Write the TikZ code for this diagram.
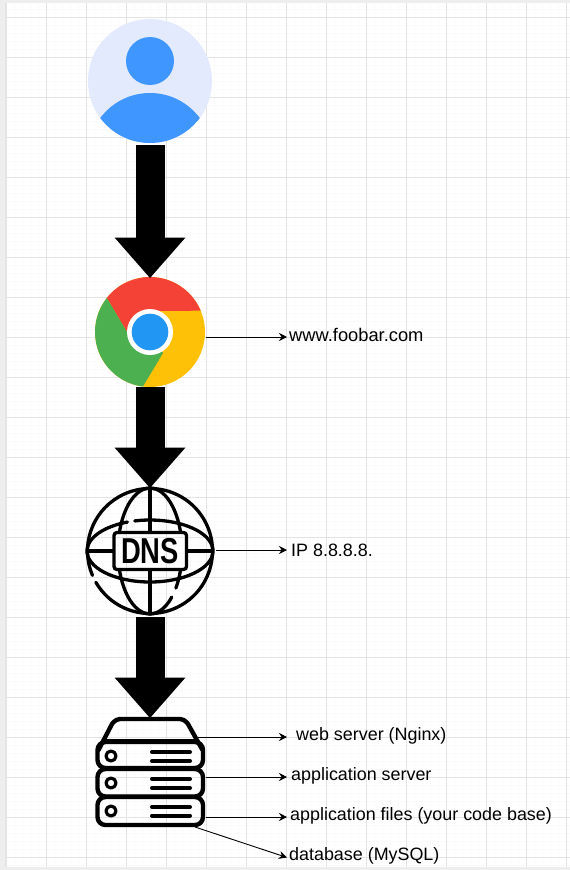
\documentclass[tikz,border=0pt]{standalone}
\usepackage{fontspec}
\setmainfont{Liberation Sans}
\usetikzlibrary{arrows.meta}
\definecolor{gridmaj}{HTML}{E4E4E4}
\definecolor{gridmin}{HTML}{FAFAFA}
\definecolor{band}{HTML}{EEEEEE}
\definecolor{userbg}{HTML}{E3EAFD}
\definecolor{userfg}{HTML}{3F96FE}
\definecolor{chred}{HTML}{F44336}
\definecolor{chgreen}{HTML}{4CAF50}
\definecolor{chyellow}{HTML}{FFC107}
\definecolor{chblue}{HTML}{2196F3}
\tikzset{
  bigarrow/.style={line width=29pt,-{Triangle[length=40.5pt,width=71pt,line width=0pt]},draw=black,xshift=0.5pt},
  thinarrow/.style={line width=0.9pt,-{Stealth[length=8pt,width=8pt]},draw=black},
  lbl/.style={font=\fontsize{17.9}{20}\selectfont,anchor=west,inner sep=0pt,text=black},
  iconbox/.style={inner sep=0pt,outer sep=0pt},
  icoline/.style={line width=3.3pt,draw=black,line cap=round},
  srvline/.style={line width=4.4pt,draw=black,line cap=round,line join=round}
}
\begin{document}
\begin{tikzpicture}[x=1pt,y=-1pt]
\useasboundingbox (0,0) rectangle (570,870);
% page and grid
\fill[white] (0,0) rectangle (570,870);
\foreach \i in {0,...,70}{\draw[gridmin,line width=0.8pt] ({6.7+8*\i},3) -- ({6.7+8*\i},867);}
\foreach \i in {-1,...,107}{\draw[gridmin,line width=0.8pt] (6,{17.3+8*\i}) -- (570,{17.3+8*\i});}
\foreach \i in {0,...,14}{\draw[gridmaj,line width=0.9pt] ({6.7+40*\i},3) -- ({6.7+40*\i},867);}
\foreach \i in {0,...,21}{\draw[gridmaj,line width=0.9pt] (6,{17.3+40*\i}) -- (570,{17.3+40*\i});}
\fill[band] (0,0) rectangle (570,3.2);
\fill[band] (0,0) rectangle (5,870);
\fill[band] (0,867) rectangle (570,870);
\draw[gridmaj,line width=1pt] (5.5,3) -- (5.5,867);
% icon holders
\node[iconbox,circle,minimum size=124pt] (user) at (150,81) {};
\node[iconbox,circle,minimum size=110pt] (chrome) at (150,332) {};
\node[iconbox,circle,minimum size=128pt] (dns) at (150,551) {};
\node[iconbox,minimum width=108pt,minimum height=110pt] (server) at (150,772) {};
% user icon
\fill[userbg] (user.center) circle[radius=62pt];
\fill[userfg] (150,61) circle[radius=24pt];
\begin{scope}
  \clip (user.center) circle[radius=62pt];
  \fill[userfg] (150,155) circle[radius=62pt];
\end{scope}
% chrome icon
\fill[chyellow] (chrome.center) circle[radius=55pt];
\fill[chred] (chrome.center) ++(22.8:55pt) arc[start angle=22.8,end angle=141.7,radius=55pt] -- (127,332) -- (150,332) -- (150,311) -- cycle;
\fill[chgreen] (chrome.center) ++(141.7:55pt) arc[start angle=141.7,end angle=262.6,radius=55pt] -- (163,353) -- (150,332) -- (127,332) -- cycle;
\fill[white] (chrome.center) circle[radius=23pt];
\fill[chblue] (chrome.center) circle[radius=18.3pt];
% DNS icon
\begin{scope}[every path/.style={icoline}]
  \draw (dns.center) ++(210:62.5pt) arc[start angle=210,end angle=563,radius=62.5pt];
  \draw (dns.center) ++(111:63pt and 31pt) arc[start angle=111,end angle=464,x radius=63pt,y radius=31pt];
  \draw (dns.center) ++(17.5:32pt and 63pt) arc[start angle=17.5,end angle=162.5,x radius=32pt,y radius=63pt];
  \draw (dns.center) ++(197.5:32pt and 63pt) arc[start angle=197.5,end angle=313,x radius=32pt,y radius=63pt];
  \draw (dns.center) ++(-36:32pt and 63pt) arc[start angle=-36,end angle=-17.5,x radius=32pt,y radius=63pt];
  \draw (150,488) -- (150,532);
  \draw (150,570) -- (150,614);
  \draw (88,551) -- (113,551);
  \draw (187,551) -- (212,551);
  \draw[rounded corners=3pt,line cap=butt] (114,532.5) rectangle (186.5,569.5);
\end{scope}
\node[iconbox,font=\bfseries\fontsize{36}{36}\selectfont,xscale=0.76] (dnstext) at (150,551) {DNS};
% server icon
\begin{scope}[every path/.style={srvline}]
  \draw (98.5,750) -- (112,724) [rounded corners=4pt] -- (116,719) -- (184,719) [sharp corners] -- (188,724) -- (202.5,750);
  \draw (104,741.5) -- (196,741.5);
  \draw[rounded corners=8pt] (97.5,742) rectangle (203,768);
  \draw[rounded corners=8pt] (97.5,769) rectangle (203,796.5);
  \draw[rounded corners=8pt] (97.5,797) rectangle (203,825);
  \draw[line width=3.2pt] (111,756) circle[radius=5pt];
  \draw[line width=3.2pt] (111,783) circle[radius=5pt];
  \draw[line width=3.2pt] (111,811) circle[radius=5pt];
  \draw[line width=4pt] (152,752) -- (190,752);
  \draw[line width=4pt] (152,761) -- (190,761);
  \draw[line width=4pt] (152,779) -- (190,779);
  \draw[line width=4pt] (152,788) -- (190,788);
  \draw[line width=4pt] (152,807) -- (190,807);
  \draw[line width=4pt] (152,815.5) -- (190,815.5);
\end{scope}
% labels
\node[lbl,font=\fontsize{18.3}{20}\selectfont] (url) at (289,335) {www.foobar.com};
\node[lbl] (ip) at (291,550) {IP 8.8.8.8.};
\node[lbl] (web) at (296,735.5) {web server (Nginx)};
\node[lbl] (app) at (291,775.5) {application server};
\node[lbl] (files) at (290,815.5) {application files (your code base)};
\node[lbl] (mysql) at (289,855.5) {database (MySQL)};
% ports on the icons
\coordinate (pchrome) at (206,337);
\coordinate (pdns) at (216,550);
\coordinate (pweb) at (198,737);
\coordinate (papp) at (205.5,777);
\coordinate (pfiles) at (206,817);
\coordinate (pdb) at (195,827);
\coordinate (turl) at (287,337);
\coordinate (tip) at (287,550);
\coordinate (tweb) at (287,737);
\coordinate (tapp) at (287,777);
\coordinate (tfiles) at (287,817);
\coordinate (tdb) at (287,857.5);
% connectors
\draw[bigarrow,shorten <=2pt] (user) -- ([yshift=-1pt]chrome.north);
\draw[bigarrow] (chrome.south) -- ([yshift=-1pt]dns.north);
\draw[bigarrow,shorten <=2pt] (dns.south) -- ([yshift=-1pt]server.north);
\draw[thinarrow] (pchrome) -- (turl);
\draw[thinarrow] (pdns) -- (tip);
\draw[thinarrow] (pweb) -- (tweb);
\draw[thinarrow] (papp) -- (tapp);
\draw[thinarrow] (pfiles) -- (tfiles);
\draw[thinarrow] (pdb) -- (tdb);
\end{tikzpicture}
\end{document}
